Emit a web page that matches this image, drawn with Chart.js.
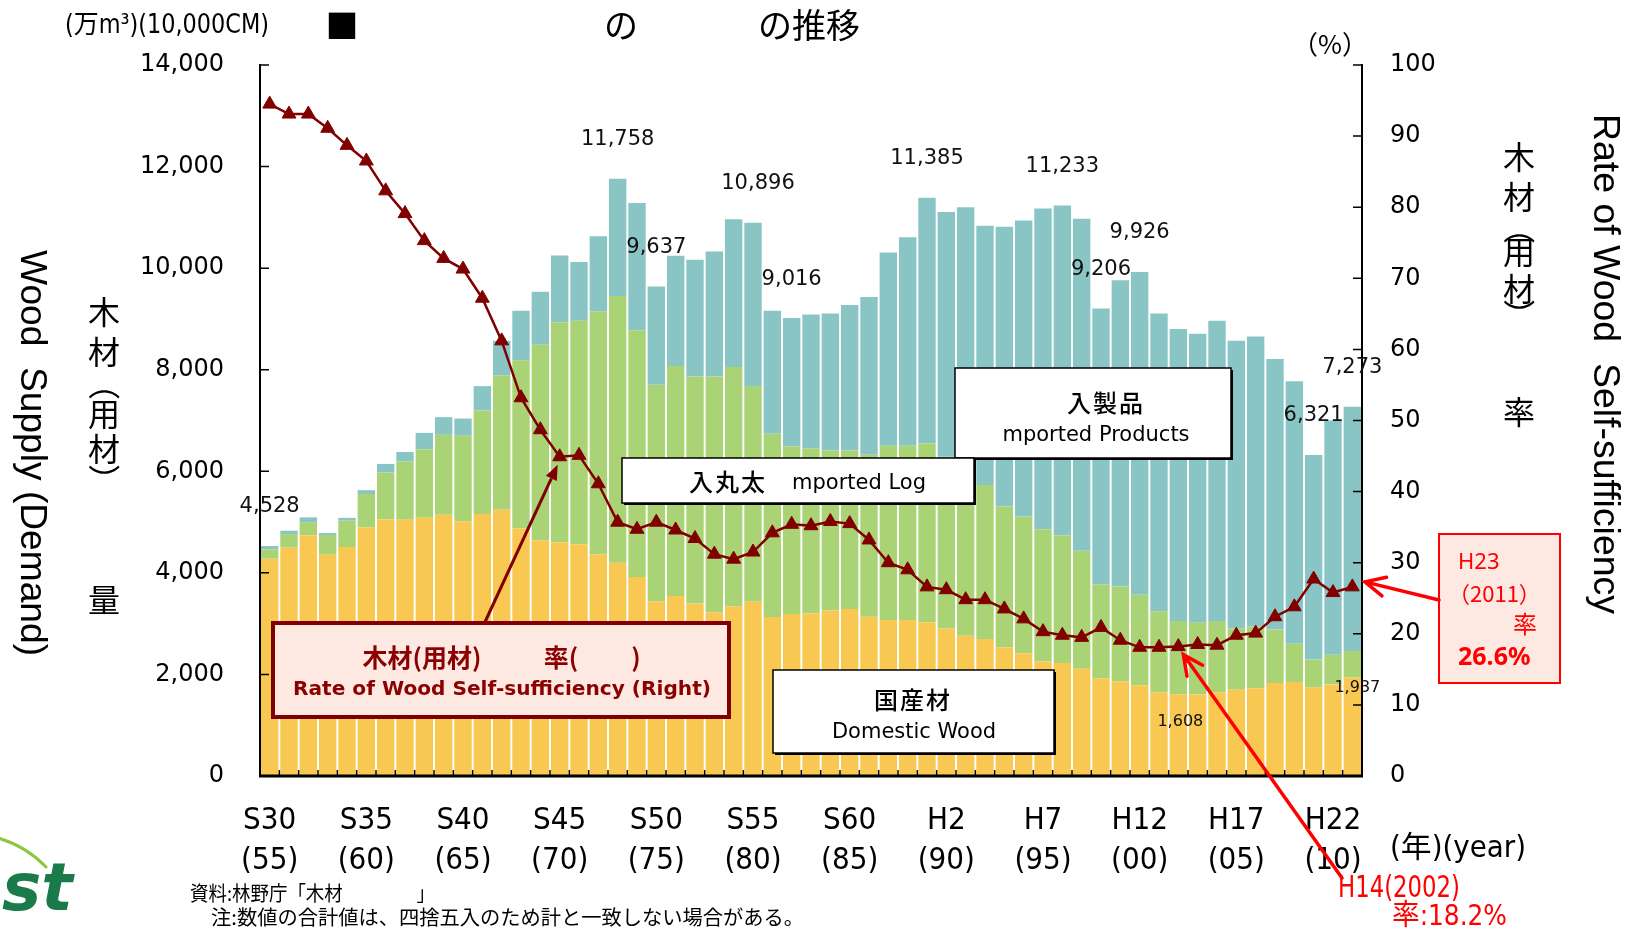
<!DOCTYPE html>
<html><head><meta charset="utf-8">
<script src="https://cdn.jsdelivr.net/npm/chart.js@4.4.1/dist/chart.umd.min.js"></script>
<style>html,body{margin:0;padding:0;background:#fff;overflow:hidden}#c{display:block}</style>
</head><body>
<canvas id="c" width="1633" height="930"></canvas>
<script>
// ---------------- DATA ----------------
const categories = ['S30','S31','S32','S33','S34','S35','S36','S37','S38','S39','S40','S41','S42','S43','S44','S45','S46','S47','S48','S49','S50','S51','S52','S53','S54','S55','S56','S57','S58','S59','S60','S61','S62','S63',
  'H1','H2','H3','H4','H5','H6','H7','H8','H9','H10','H11','H12','H13','H14','H15','H16','H17','H18','H19','H20','H21','H22','H23'];
const tickTop = ['S30','S35','S40','S45','S50','S55','S60','H2','H7','H12','H17','H22'];
const tickBottom = ['(55)','(60)','(65)','(70)','(75)','(80)','(85)','(90)','(95)','(00)','(05)','(10)'];
// 万m3
const domestic = [4279,4497,4742,4357,4509,4893,5057,5047,5087,5144,5018,5159,5244,4874,4644,4603,4564,4368,4198,3916,3440,3544,3396,3222,3344,3432,3133,3192,3198,3260,3289,3138,3072,3072,3025,2903,2762,2697,2537,2415,2255,2227,2114,1924,1865,1785,1644,1608,1607,1644,1697,1729,1832,1851,1741,1804,1937];
const importedLog = [184,267,257,388,518,660,919,1145,1349,1574,1681,2038,2649,3310,3850,4333,4400,4784,5254,4860,4265,4527,4469,4643,4708,4245,3604,3301,3257,3148,3119,3186,3430,3430,3524,3383,3248,3035,2772,2697,2603,2509,2321,1853,1865,1785,1598,1446,1409,1410,1206,1221,1053,752,552,583,525];
const importedProducts = [65,66,94,38,56,75,169,188,320,348,339,480,676,977,1043,1315,1156,1475,2306,2509,1932,2171,2302,2461,2913,3219,2424,2523,2631,2697,2866,3109,3805,4106,4836,4820,5190,5102,5506,5825,6314,6497,6539,5429,6032,6356,5863,5750,5694,5910,5666,5704,5327,5168,4028,4613,4811];
// %
const selfSufficiency = [94.5,93.1,93.1,91.1,88.7,86.5,82.3,79.1,75.3,72.8,71.3,67.2,61.2,53.2,48.7,44.9,45.1,41.1,35.7,34.7,35.7,34.6,33.4,31.2,30.5,31.5,34.2,35.4,35.2,35.8,35.5,33.2,30.0,29.0,26.6,26.2,24.8,24.8,23.5,22.1,20.3,19.8,19.5,20.9,19.1,18.1,18.1,18.2,18.5,18.4,19.8,20.1,22.4,23.8,27.7,25.8,26.6];
const totalLabelBars = ['S30','S48','S50','S55','S57','H1','H8','H10','H12','H21','H23'];
const domesticLabelBars = ['H14','H23'];

// ---------------- HELPERS ----------------
const NARROW = "'Liberation Sans Narrow','DejaVu Sans Condensed','Noto Sans CJK JP',sans-serif";
const CJK = "'Noto Sans CJK JP',sans-serif";
const DJ = "'DejaVu Sans','Noto Sans CJK JP',sans-serif";
function T(ctx, s, x, y, o) {
  ctx.save();
  ctx.font = o.font; ctx.fillStyle = o.color || '#000';
  ctx.textAlign = o.align || 'center'; ctx.textBaseline = o.base || 'middle';
  if (o.ls) ctx.letterSpacing = o.ls + 'px';
  ctx.translate(x, y);
  if (o.rot) ctx.rotate(o.rot);
  if (o.w) { const m = ctx.measureText(s).width; ctx.scale(o.w / m, 1); }
  ctx.fillText(s, 0, 0);
  ctx.restore();
}
function box(ctx, x, y, w, h) {
  ctx.save();
  ctx.fillStyle = '#000'; ctx.fillRect(x + 2, y + 2, w, h);
  ctx.fillStyle = '#fff'; ctx.fillRect(x, y, w, h);
  ctx.strokeStyle = '#000'; ctx.lineWidth = 1.5; ctx.strokeRect(x, y, w, h);
  ctx.restore();
}
function openArrow(ctx, x1, y1, x2, y2, color, lw, len) {
  const a = Math.atan2(y2 - y1, x2 - x1);
  ctx.save(); ctx.strokeStyle = color; ctx.lineWidth = lw; ctx.lineCap = 'round';
  ctx.beginPath(); ctx.moveTo(x1, y1); ctx.lineTo(x2, y2);
  ctx.moveTo(x2 - len * Math.cos(a - 0.45), y2 - len * Math.sin(a - 0.45)); ctx.lineTo(x2, y2);
  ctx.lineTo(x2 - len * Math.cos(a + 0.45), y2 - len * Math.sin(a + 0.45));
  ctx.stroke(); ctx.restore();
}
function filledArrow(ctx, x1, y1, x2, y2, color, lw, len, hw) {
  const a = Math.atan2(y2 - y1, x2 - x1);
  ctx.save(); ctx.strokeStyle = color; ctx.fillStyle = color; ctx.lineWidth = lw;
  ctx.beginPath(); ctx.moveTo(x1, y1); ctx.lineTo(x2 - len * Math.cos(a), y2 - len * Math.sin(a)); ctx.stroke();
  ctx.beginPath(); ctx.moveTo(x2, y2);
  ctx.lineTo(x2 - len * Math.cos(a) + hw * Math.sin(a), y2 - len * Math.sin(a) - hw * Math.cos(a));
  ctx.lineTo(x2 - len * Math.cos(a) - hw * Math.sin(a), y2 - len * Math.sin(a) + hw * Math.cos(a));
  ctx.closePath(); ctx.fill(); ctx.restore();
}

const deco = {
  id: 'deco',
  afterDraw(chart) {
    const ctx = chart.ctx;
    const xs = chart.scales.x, ys = chart.scales.y, yr = chart.scales.y1;
    const {left: L, right: R, top: TP, bottom: B} = chart.chartArea;
    ctx.save();
    // tick marks (inward)
    ctx.strokeStyle = '#000'; ctx.lineWidth = 1.5;
    ctx.beginPath();
    ys.ticks.forEach(t => { const y = ys.getPixelForValue(t.value); ctx.moveTo(L, y); ctx.lineTo(L + 9, y); });
    yr.ticks.forEach(t => { const y = yr.getPixelForValue(t.value); ctx.moveTo(R - 9, y); ctx.lineTo(R, y); });
    for (let i = 1; i < categories.length; i++) {
      const x = (xs.getPixelForValue(i - 1) + xs.getPixelForValue(i)) / 2;
      ctx.moveTo(x, B); ctx.lineTo(x, B - 6);
    }
    ctx.stroke();
    // axis lines
    ctx.lineWidth = 2;
    ctx.beginPath(); ctx.moveTo(L, TP - 1); ctx.lineTo(L, B); ctx.moveTo(R, TP - 1); ctx.lineTo(R, B); ctx.stroke();
    ctx.lineWidth = 3;
    ctx.beginPath(); ctx.moveTo(L - 1, B); ctx.lineTo(R + 1, B); ctx.stroke();

    // total labels
    totalLabelBars.forEach(c => {
      const i = categories.indexOf(c);
      const tot = domestic[i] + importedLog[i] + importedProducts[i];
      const dx = c === 'S55' ? 5 : 0;
      T(ctx, tot.toLocaleString('en-US'), xs.getPixelForValue(i) + dx, ys.getPixelForValue(tot) - 39, {font: "21px " + DJ, color: '#111'});
    });
    domesticLabelBars.forEach(c => {
      const i = categories.indexOf(c);
      const v = domestic[i];
      const off = c === 'H14' ? [2, 28] : [5, 10];
      T(ctx, v.toLocaleString('en-US'), xs.getPixelForValue(i) + off[0], ys.getPixelForValue(v) + off[1], {font: "16px " + DJ, color: '#111'});
    });

    // label boxes
    box(ctx, 955, 368, 276, 90);
    T(ctx, '入製品', 1106, 403, {font: "500 24px " + CJK, ls: 2});
    T(ctx, 'mported Products', 1096, 436, {font: "21px " + DJ});
    box(ctx, 622, 458, 352, 45);
    T(ctx, '入丸太', 728, 482, {font: "500 24px " + CJK, ls: 2});
    T(ctx, 'mported Log', 859, 484, {font: "21px " + DJ});
    box(ctx, 773, 670, 281, 83);
    T(ctx, '国産材', 913, 700, {font: "500 24px " + CJK, ls: 2});
    T(ctx, 'Domestic Wood', 914, 733, {font: "21px " + DJ});

    // rate box
    ctx.fillStyle = '#FDE9E1'; ctx.fillRect(273, 623, 456, 94);
    ctx.strokeStyle = '#7F0000'; ctx.lineWidth = 4; ctx.strokeRect(273, 623, 456, 94);
    const DR = '#8B0000';
    T(ctx, '木材(用材)', 422, 657, {font: "bold 25px " + CJK, color: DR});
    T(ctx, '率(', 561, 657, {font: "bold 25px " + CJK, color: DR});
    T(ctx, ')', 636, 657, {font: "bold 25px " + CJK, color: DR});
    T(ctx, 'Rate of Wood Self-sufficiency (Right)', 502, 690, {font: "bold 20px " + DJ, color: DR, w: 418});
    // arrow from rate box to the line
    const i15 = categories.indexOf('S45');
    filledArrow(ctx, 485, 622, xs.getPixelForValue(i15) - 2, yr.getPixelForValue(selfSufficiency[i15]) + 8, '#7F0000', 3, 15, 6);

    // H23 box
    ctx.fillStyle = '#FDE9E1'; ctx.fillRect(1439, 534, 121, 149);
    ctx.strokeStyle = '#FF0000'; ctx.lineWidth = 2; ctx.strokeRect(1439, 534, 121, 149);
    const RED = '#FF0000';
    T(ctx, 'H23', 1458, 569, {font: "22px 'Noto Sans',sans-serif", color: RED, align: 'left', base: 'alphabetic'});
    T(ctx, '（2011）', 1448, 602, {font: "22px " + CJK, color: RED, align: 'left', base: 'alphabetic'});
    T(ctx, '率', 1513, 633, {font: "24px " + CJK, color: RED, align: 'left', base: 'alphabetic'});
    T(ctx, '26.6%', 1458, 665, {font: "bold 25px 'Noto Sans',sans-serif", color: RED, align: 'left', base: 'alphabetic'});
    const iLast = categories.length - 1;
    openArrow(ctx, 1439, 600, R + 3, yr.getPixelForValue(selfSufficiency[iLast]) - 5, RED, 3.5, 22);
    // H14 arrow
    const i14 = categories.indexOf('H14');
    openArrow(ctx, 1342, 878, xs.getPixelForValue(i14) + 5, yr.getPixelForValue(selfSufficiency[i14]) + 8, RED, 3.5, 22);
    T(ctx, 'H14(2002)', 1338, 889, {font: "30px " + NARROW, color: RED, align: 'left', w: 122});
    T(ctx, '率:18.2%', 1392, 917, {font: "29px " + NARROW, color: RED, align: 'left', w: 115});

    // header texts
    T(ctx, '(万m³)(10,000CM)', 65, 26, {font: "26px " + NARROW, align: 'left', w: 204});
    T(ctx, '■', 342, 25, {font: "33px " + CJK});
    T(ctx, 'の', 621, 25, {font: "34px " + CJK});
    T(ctx, 'の推移', 809, 25, {font: "34px " + CJK});
    T(ctx, '（%）', 1330, 44, {font: "26px " + CJK});
    T(ctx, '(年)(year)', 1390, 849, {font: "30px " + NARROW, align: 'left', w: 136});

    // axis titles
    T(ctx, 'Wood  Supply (Demand)', 31, 453, {font: "36px 'Liberation Sans',Arial,sans-serif", rot: Math.PI / 2, w: 406});
    T(ctx, 'Rate of Wood  Self-sufficiency', 1604, 364, {font: "36px 'Liberation Sans',Arial,sans-serif", rot: Math.PI / 2, w: 500});
    const vch = ['木', '材', '（', '用', '材', '）'];
    const vyL = [312, 352, 384, 414, 449, 480];
    const vyR = [157, 197, 228, 252, 289, 315];
    vch.forEach((c, k) => {
      const o = {font: "32px " + CJK};
      if (c === '（' || c === '）') o.rot = Math.PI / 2;
      T(ctx, c, 104, vyL[k], o);
      T(ctx, c, 1519, vyR[k], o);
    });
    T(ctx, '量', 104, 600, {font: "32px " + CJK});
    T(ctx, '率', 1519, 412, {font: "32px " + CJK});

    // footnotes
    T(ctx, '資料:林野庁「木材　　　　」', 190, 893, {font: "20px " + CJK, align: 'left', w: 245});
    T(ctx, '注:数値の合計値は、四捨五入のため計と一致しない場合がある。', 211, 917, {font: "20px " + CJK, align: 'left', w: 593});

    // logo fragment
    ctx.strokeStyle = '#8DC63F'; ctx.lineWidth = 3; ctx.lineCap = 'round';
    ctx.beginPath(); ctx.moveTo(-2, 838); ctx.quadraticCurveTo(26, 846, 46, 867); ctx.stroke();
    ctx.font = "italic bold 66px 'DejaVu Sans',sans-serif";
    ctx.fillStyle = '#1B7A4A'; ctx.textAlign = 'left'; ctx.textBaseline = 'alphabetic';
    const ew = ctx.measureText('e').width;
    ctx.fillText('est', 2 - ew, 910);
    ctx.restore();
  }
};

const chart = new Chart(document.getElementById('c').getContext('2d'), {
  type: 'bar',
  data: {
    labels: categories,
    datasets: [
      {type: 'line', label: '木材（用材）自給率', data: selfSufficiency, yAxisID: 'y1', order: 0,
       borderColor: '#800000', backgroundColor: '#800000', borderWidth: 2.5, tension: 0,
       pointStyle: 'triangle', pointRadius: 8, pointBackgroundColor: '#800000', pointBorderColor: '#800000', pointBorderWidth: 1},
      {label: '国産材', data: domestic, backgroundColor: '#F9C852', yAxisID: 'y', order: 1, stack: 's', barPercentage: 0.9, categoryPercentage: 1},
      {label: '輸入丸太', data: importedLog, backgroundColor: '#AAD376', yAxisID: 'y', order: 1, stack: 's', barPercentage: 0.9, categoryPercentage: 1},
      {label: '輸入製品', data: importedProducts, backgroundColor: '#8AC5C5', yAxisID: 'y', order: 1, stack: 's', barPercentage: 0.9, categoryPercentage: 1}
    ]
  },
  options: {
    responsive: false, animation: false, devicePixelRatio: 1,
    layout: {padding: {top: 65, left: 0, right: 0, bottom: 0}},
    plugins: {legend: {display: false}, tooltip: {enabled: false}},
    scales: {
      x: {stacked: true, grid: {display: false, drawTicks: false}, border: {display: false},
          ticks: {autoSkip: false, maxRotation: 0, minRotation: 0, padding: 25, color: '#000',
                  font: {family: NARROW, size: 31, lineHeight: 1.3},
                  callback: (v, i) => { const k = tickTop.indexOf(categories[i]); return k >= 0 ? [tickTop[k], tickBottom[k]] : ''; }},
          afterFit: s => { s.height = 154; }},
      y: {stacked: true, position: 'left', min: 0, max: 14000,
          grid: {display: false, drawTicks: false}, border: {display: false},
          ticks: {stepSize: 2000, padding: 36, color: '#000', font: {family: DJ, size: 24}},
          afterFit: s => { s.width = 260; }},
      y1: {position: 'right', min: 0, max: 100,
          grid: {display: false, drawTicks: false}, border: {display: false},
          ticks: {stepSize: 10, padding: 28, color: '#000', font: {family: DJ, size: 24}},
          afterFit: s => { s.width = 271; }}
    }
  },
  plugins: [deco]
});
if (document.fonts && document.fonts.ready) document.fonts.ready.then(() => chart.draw());
</script>
</body></html>
